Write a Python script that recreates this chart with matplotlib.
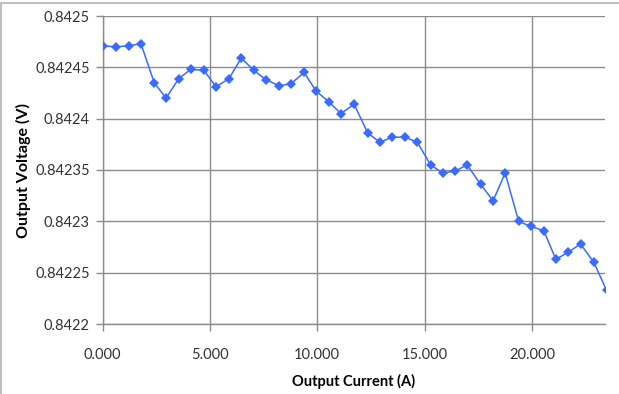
import matplotlib
matplotlib.use("Agg")
import matplotlib.pyplot as plt
from matplotlib.patches import Rectangle
from matplotlib.ticker import FixedLocator, FuncFormatter

# Data
current = [0.00, 0.61, 1.23, 1.79, 2.41, 2.96, 3.55, 4.11, 4.73, 5.28,
           5.89, 6.46, 7.05, 7.61, 8.22, 8.78, 9.39, 9.94, 10.56, 11.10,
           11.72, 12.35, 12.93, 13.48, 14.10, 14.66, 15.28, 15.84, 16.43, 16.98,
           17.61, 18.19, 18.75, 19.38, 19.94, 20.55, 21.11, 21.70, 22.26, 22.88,
           23.47]
voltage = [0.842471, 0.842470, 0.842471, 0.842473, 0.842435, 0.842420, 0.842439,
           0.842448, 0.842447, 0.842431, 0.842439, 0.842459, 0.842447, 0.842438,
           0.842432, 0.842434, 0.842445, 0.842427, 0.842416, 0.842405, 0.842414,
           0.842386, 0.842377, 0.842382, 0.842382, 0.842377, 0.842355, 0.842347,
           0.842349, 0.842355, 0.842336, 0.842320, 0.842347, 0.842300, 0.842295,
           0.842291, 0.842263, 0.842270, 0.842278, 0.842260, 0.842233]

x_ticks = [0, 5, 10, 15, 20]
y_ticks = [0.8422, 0.84225, 0.8423, 0.84235, 0.8424, 0.84245, 0.8425]
y_labels = ["0.8422", "0.84225", "0.8423", "0.84235", "0.8424", "0.84245", "0.8425"]

plt.rcParams['font.family'] = ['Lato', 'DejaVu Sans']

W, H = 619, 394
fig = plt.figure(figsize=(W / 100, H / 100), dpi=100)
ax = fig.add_axes([102.5 / W, 1 - 324 / H, (605 - 102.5) / W, (324 - 16) / H])

grid_col = '#8c8c8c'
ax.plot(current, voltage, color='#3a6bff', lw=1.1, marker='D', ms=5.3,
        markeredgewidth=0, clip_on=True, zorder=3)

ax.set_xlim(0, 23.4)
ax.set_ylim(0.8422, 0.8425)
ax.xaxis.set_major_locator(FixedLocator(x_ticks))
ax.xaxis.set_major_formatter(FuncFormatter(lambda v, p: "%.3f" % v))
ax.yaxis.set_major_locator(FixedLocator(y_ticks))
ax.set_yticklabels(y_labels)

ax.grid(True, color=grid_col, lw=1.0)
ax.set_axisbelow(True)
for side in ('top', 'right'):
    ax.spines[side].set_visible(False)
for side in ('left', 'bottom'):
    ax.spines[side].set_color(grid_col)
    ax.spines[side].set_linewidth(1.0)
ax.tick_params(axis='both', colors=grid_col, length=5, width=1.0,
               labelcolor='#333333', labelsize=10.5, pad=4)
ax.tick_params(axis='x', pad=12)

ax.set_xlabel("Output Current (A)", fontsize=10.5, fontweight='bold', labelpad=9)
ax.set_ylabel("Output Voltage (V)", fontsize=11.5, fontweight='bold', labelpad=3)

# chart area border
fig.patches.append(Rectangle((1 / W, -0.01), 1.5, 1 - 2.5 / H + 0.01,
                             transform=fig.transFigure, fill=False,
                             edgecolor='#bfbfbf', lw=1.5))

fig.savefig("out.png", dpi=100)
